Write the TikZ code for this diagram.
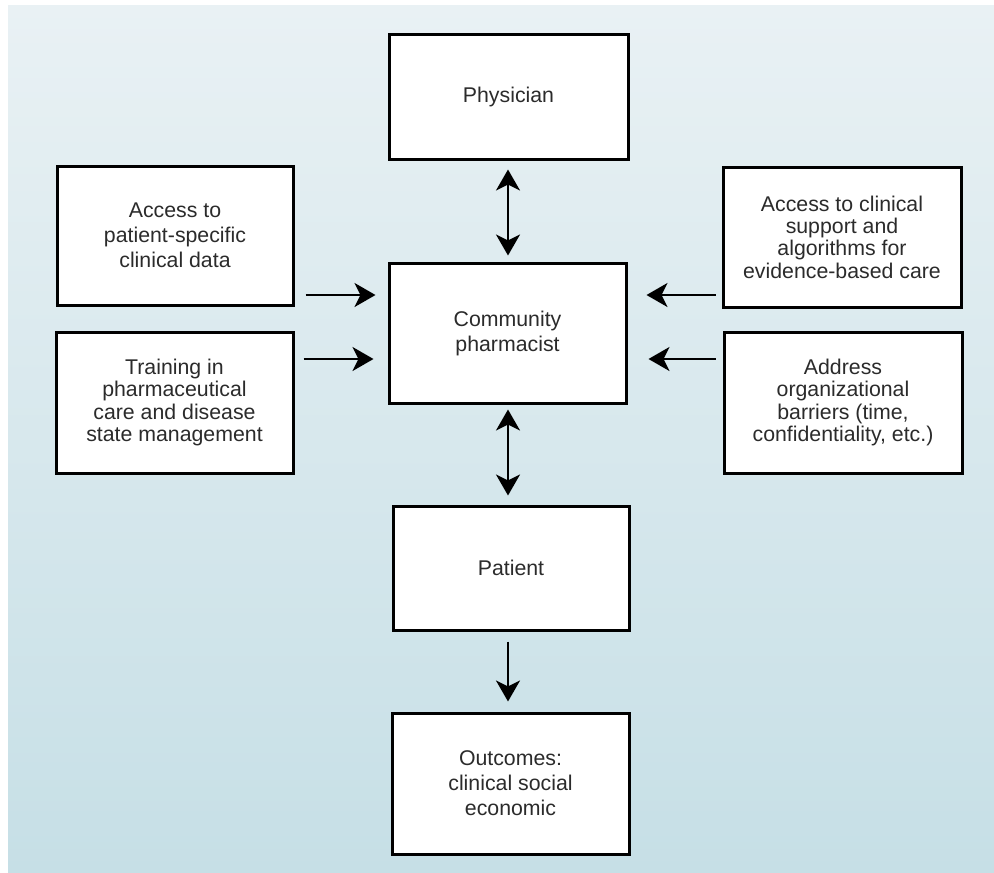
\documentclass[tikz,border=0pt]{standalone}
\usepackage{fontspec}
\setmainfont{Liberation Sans}
\usetikzlibrary{arrows.meta,calc}
\definecolor{bgtop}{HTML}{E9F1F4}
\definecolor{bgbot}{HTML}{C6DFE6}
\definecolor{txt}{HTML}{2B2B2B}
\begin{document}
\begin{tikzpicture}[x=1pt,y=-1pt,
  >={Stealth[length=21pt,width=24pt,inset=6pt]},
  box/.style={draw=black,line width=3pt,fill=white,rectangle,align=center,
    text=txt,inner sep=0pt,font=\fontsize{21.3}{25}\selectfont},
  box4/.style={box,font=\fontsize{21.3}{22.3}\selectfont},
  arr/.style={line width=2.5pt,->},
  dbl/.style={line width=2.5pt,<->}]
\useasboundingbox (0,0) rectangle (994,873);
\shade[top color=bgtop,bottom color=bgbot] (8,5) rectangle (994,873);

\node[box,minimum width=239pt,minimum height=125pt] (phys) at (508.5,96.5) {Physician};
\node[box,minimum width=236pt,minimum height=139pt] (acc) at (175,235.5) {Access to\\patient-specific\\clinical data};
\node[box4,minimum width=237pt,minimum height=141pt] (train) at (174.5,402.5) {Training in\\pharmaceutical\\care and disease\\state management};
\node[box,minimum width=237pt,minimum height=140pt] (comm) at (507.5,333) {Community\\pharmacist};
\node[box4,minimum width=238pt,minimum height=140pt] (clin) at (842,237) {Access to clinical\\support and\\algorithms for\\evidence-based care};
\node[box4,minimum width=238pt,minimum height=141pt] (addr) at (843,402.5) {Address\\organizational\\barriers (time,\\confidentiality, etc.)};
\node[box,minimum width=236pt,minimum height=124pt] (pat) at (511,568) {Patient};
\node[box,minimum width=237pt,minimum height=141pt] (out) at (510.5,783.5) {Outcomes:\\clinical social\\economic};

\coordinate (ya) at (0,295);
\coordinate (yb) at (0,359);
\coordinate (xv) at (508,0);

\draw[arr,shorten <=11pt,shorten >=12pt] (acc.east |- ya) -- (comm.west |- ya);
\draw[arr,shorten <=9pt,shorten >=14pt] (train.east |- yb) -- (comm.west |- yb);
\draw[arr,shorten <=6pt,shorten >=19pt] (clin.west |- ya) -- (comm.east |- ya);
\draw[arr,shorten <=7pt,shorten >=21pt] (addr.west |- yb) -- (comm.east |- yb);

\draw[dbl,shorten <=9pt,shorten >=6pt] (xv |- phys.south) -- (xv |- comm.north);
\draw[dbl,shorten <=5pt,shorten >=9pt] (xv |- comm.south) -- (xv |- pat.north);
\draw[arr,shorten <=10pt,shorten >=10pt] (xv |- pat.south) -- (xv |- out.north);
\end{tikzpicture}
\end{document}
